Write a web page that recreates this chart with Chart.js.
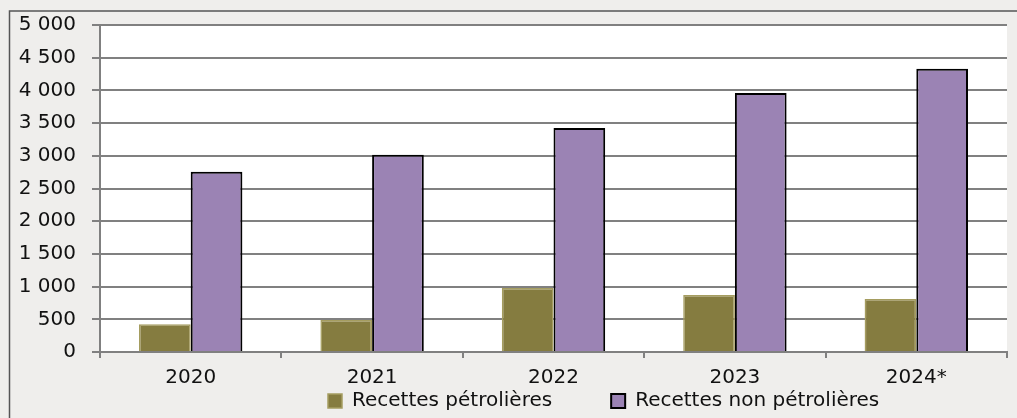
<!DOCTYPE html>
<html>
<head>
<meta charset="utf-8">
<script src="https://cdn.jsdelivr.net/npm/chart.js@4"></script>
<style>
  html, body { margin: 0; padding: 0; background: #f0efed; }
  #wrap { width: 1017px; height: 418px; }
</style>
</head>
<body>
<div id="wrap"><canvas id="chart" width="1017" height="418"></canvas></div>
<script>
const years = ["2020", "2021", "2022", "2023", "2024*"]
const petrol = [425, 490, 980, 870, 810]
const nonPetrol = [2755, 3015, 3425, 3960, 4330]
const yTicks = [0, 500, 1000, 1500, 2000, 2500, 3000, 3500, 4000, 4500, 5000]

const font = "'DejaVu Sans', sans-serif"
const legendGap = 59

function fmt(v) {
  return String(v).replace(/\B(?=(\d{3})+(?!\d))/g, " ")
}

// background, white plot area, outer frame
const frame = {
  id: "frame",
  beforeDraw(chart) {
    const c = chart.ctx
    c.save()
    c.fillStyle = "#efeeec"
    c.fillRect(0, 0, chart.width, chart.height)
    const a = chart.chartArea
    c.fillStyle = "#ffffff"
    c.fillRect(a.left, a.top, a.right - a.left, a.bottom - a.top)
    c.strokeStyle = "#555"
    c.lineWidth = 1.5
    c.strokeRect(9.5, 11, chart.width + 10, chart.height + 10)
    c.restore()
  },
  afterLayout(chart) {
    // legend sits right of centre in the original
    const lg = chart.legend
    lg.left = 328 - legendGap
    lg.top = 391 - legendGap
  }
}

new Chart(document.getElementById("chart"), {
  type: "bar",
  data: {
    labels: years,
    datasets: [{
      label: "Recettes pétrolières",
      data: petrol,
      backgroundColor: "#857c40",
      borderColor: "#a59d60",
      borderWidth: 1.5,
      categoryPercentage: 0.57,
      barPercentage: 1.0
    }, {
      label: "Recettes non pétrolières",
      data: nonPetrol,
      backgroundColor: "#9b83b4",
      borderColor: "#000000",
      borderWidth: 2,
      categoryPercentage: 0.57,
      barPercentage: 1.0
    }]
  },
  options: {
    responsive: false,
    animation: false,
    layout: { padding: { top: 25, right: 10, left: 10, bottom: 0 } },
    scales: {
      x: {
        offset: true,
        grid: { display: true, drawOnChartArea: false, offset: true, color: "#808080", lineWidth: 2, tickLength: 6 },
        border: { color: "#808080", width: 2 },
        ticks: { color: "#111", font: { family: font, size: 20 }, padding: 8 },
        afterFit(s) { s.height = 40 }
      },
      y: {
        min: 0,
        max: 5000,
        afterBuildTicks(s) { s.ticks = yTicks.map(v => ({ value: v })) },
        grid: { color: "#808080", lineWidth: 2, tickLength: 8 },
        border: { color: "#808080", width: 2 },
        ticks: {
          color: "#111",
          font: { family: font, size: 20 },
          padding: 16,
          callback: v => fmt(v)
        },
        afterFit(s) {
          s.width = 90
          s.paddingTop = 0
          s.paddingBottom = 0
        }
      }
    },
    plugins: {
      legend: {
        position: "bottom",
        align: "start",
        maxHeight: 26,
        labels: {
          color: "#111",
          font: { family: font, size: 20 },
          boxWidth: 14,
          boxHeight: 14,
          padding: legendGap
        }
      },
      tooltip: { enabled: false }
    }
  },
  plugins: [frame]
})
</script>
</body>
</html>
